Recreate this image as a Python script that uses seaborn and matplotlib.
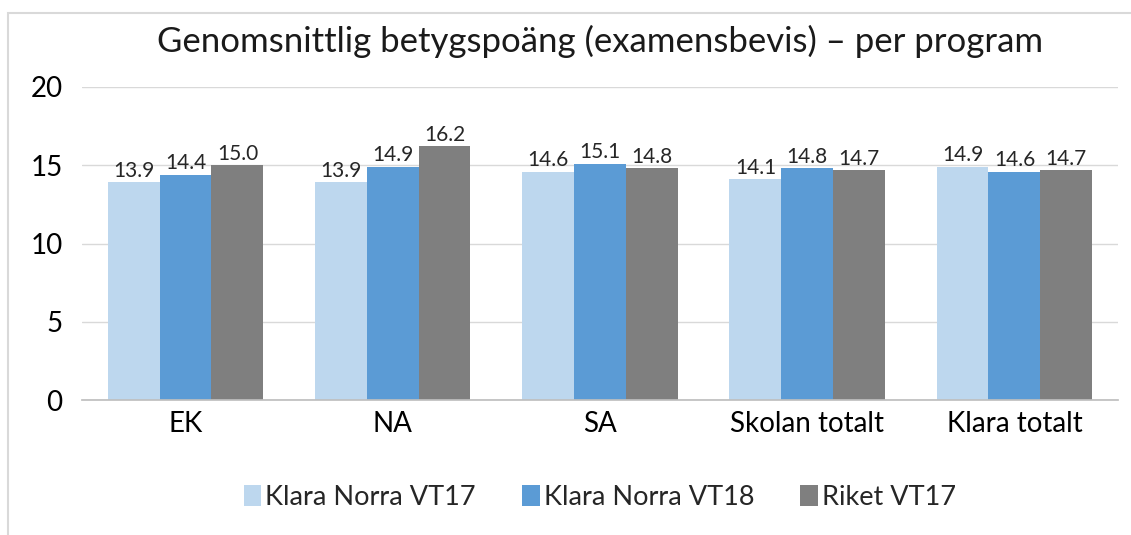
import matplotlib
matplotlib.use("Agg")
import matplotlib.pyplot as plt
import seaborn as sns
import pandas as pd
from matplotlib.patches import Rectangle

categories = ["EK", "NA", "SA", "Skolan totalt", "Klara totalt"]
series_names = ["Klara Norra VT17", "Klara Norra VT18", "Riket VT17"]
klara_vt17 = [13.9, 13.9, 14.6, 14.1, 14.9]
klara_vt18 = [14.4, 14.9, 15.1, 14.8, 14.6]
riket_vt17 = [15.0, 16.2, 14.8, 14.7, 14.7]
colors = ["#BDD7EE", "#5B9BD5", "#7F7F7F"]

rows = []
for name, vals in zip(series_names, [klara_vt17, klara_vt18, riket_vt17]):
    for c, v in zip(categories, vals):
        rows.append({"Program": c, "Serie": name, "Värde": v})
df = pd.DataFrame(rows)

sns.set_theme(style="white")
plt.rcParams["font.family"] = ["Lato", "DejaVu Sans"]

fig = plt.figure(figsize=(11.31, 5.35), dpi=100)
ax = fig.add_axes([0.0725, 0.2523, 0.916, 0.5851])

sns.barplot(data=df, x="Program", y="Värde", hue="Serie", order=categories,
            hue_order=series_names, palette=colors, width=0.75, ax=ax,
            saturation=1, errorbar=None, legend=True, linewidth=0)

for cont in ax.containers:
    ax.bar_label(cont, fmt="%.1f", fontsize=15, color="#262626", padding=1)

ax.set_ylim(0, 20)
ax.set_yticks([0, 5, 10, 15, 20])
ax.yaxis.grid(True, color="#D9D9D9", linewidth=1)
ax.set_axisbelow(True)
for s in ["top", "right", "left"]:
    ax.spines[s].set_visible(False)
ax.spines["bottom"].set_color("#BFBFBF")
ax.set_xlabel("")
ax.set_ylabel("")
ax.tick_params(axis="both", labelsize=20, colors="#000000", length=0, pad=8)
ax.tick_params(axis="y", pad=14)

ax.set_title("Genomsnittlig betygspoäng (examensbevis) – per program",
             fontsize=25, color="#1a1a1a", pad=25)

ax.legend(loc="center", bbox_to_anchor=(0.5, -0.31), ncol=3, frameon=False,
          fontsize=19.5, handlelength=0.65, handleheight=0.8, handletextpad=0.15,
          columnspacing=1.7)

fig.patches.append(Rectangle((8 / 1131, -0.1), 1.2, 1 - 13 / 535 + 0.1,
                             transform=fig.transFigure, fill=False,
                             edgecolor="#D9D9D9", linewidth=1.5))

fig.savefig("out.png", dpi=100)
